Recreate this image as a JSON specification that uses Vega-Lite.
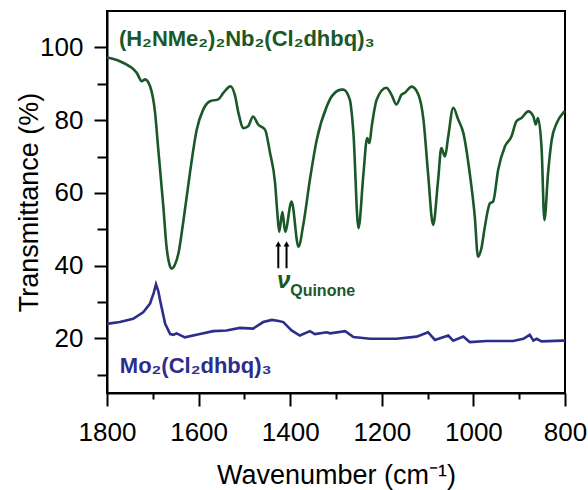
{
  "$schema": "https://vega.github.io/schema/vega-lite/v6.json",
  "width": 458,
  "height": 382,
  "autosize": {"type": "none"},
  "padding": {"left": 107, "top": 11, "right": 23, "bottom": 97},
  "background": "white",
  "config": {
    "view": {"stroke": "black", "strokeWidth": 2},
    "axis": {
      "grid": false,
      "domainColor": "black",
      "domainWidth": 2,
      "tickColor": "black",
      "tickWidth": 2,
      "labelFont": "Liberation Sans",
      "labelFontSize": 26,
      "labelColor": "black",
      "titleFont": "Liberation Sans",
      "titleFontSize": 27,
      "titleFontWeight": "normal",
      "titleColor": "black",
      "labelFlush": false,
      "labelOverlap": false
    }
  },
  "datasets": {
    "nb": [
      {"wn": 1800, "T": 97.2}, {"wn": 1786, "T": 96.8}, {"wn": 1772, "T": 96.2}, {"wn": 1758, "T": 95.3},
      {"wn": 1746, "T": 94.4}, {"wn": 1735, "T": 93.0}, {"wn": 1724, "T": 90.7}, {"wn": 1717, "T": 91.2},
      {"wn": 1706, "T": 89.3}, {"wn": 1695, "T": 82.0}, {"wn": 1688, "T": 71.9}, {"wn": 1677, "T": 56.2},
      {"wn": 1670, "T": 45.2}, {"wn": 1664, "T": 40.5}, {"wn": 1659, "T": 39.2}, {"wn": 1652, "T": 40.2},
      {"wn": 1644, "T": 43.4}, {"wn": 1633, "T": 52.5}, {"wn": 1619, "T": 65.4}, {"wn": 1604, "T": 77.4},
      {"wn": 1590, "T": 82.9}, {"wn": 1575, "T": 85.2}, {"wn": 1557, "T": 85.7}, {"wn": 1546, "T": 87.5},
      {"wn": 1535, "T": 89.0}, {"wn": 1531, "T": 89.3}, {"wn": 1521, "T": 87.0}, {"wn": 1513, "T": 82.0},
      {"wn": 1502, "T": 77.8}, {"wn": 1492, "T": 78.3}, {"wn": 1481, "T": 81.0}, {"wn": 1470, "T": 78.8},
      {"wn": 1455, "T": 77.4}, {"wn": 1444, "T": 71.0}, {"wn": 1433, "T": 62.7}, {"wn": 1428, "T": 54.4},
      {"wn": 1424, "T": 49.3}, {"wn": 1417, "T": 54.8}, {"wn": 1411, "T": 49.3}, {"wn": 1397, "T": 57.6},
      {"wn": 1382, "T": 45.2}, {"wn": 1371, "T": 51.6}, {"wn": 1357, "T": 63.6}, {"wn": 1342, "T": 74.6},
      {"wn": 1320, "T": 83.8}, {"wn": 1309, "T": 86.6}, {"wn": 1288, "T": 88.4}, {"wn": 1284, "T": 88.4},
      {"wn": 1270, "T": 85.7}, {"wn": 1262, "T": 76.5}, {"wn": 1251, "T": 50.3}, {"wn": 1240, "T": 65.4},
      {"wn": 1232, "T": 75.1}, {"wn": 1227, "T": 73.7}, {"wn": 1222, "T": 78.3}, {"wn": 1211, "T": 85.7},
      {"wn": 1190, "T": 88.9}, {"wn": 1179, "T": 87.0}, {"wn": 1168, "T": 84.3}, {"wn": 1157, "T": 87.0},
      {"wn": 1150, "T": 87.5}, {"wn": 1135, "T": 89.2}, {"wn": 1120, "T": 87.0}, {"wn": 1109, "T": 80.1},
      {"wn": 1099, "T": 65.4}, {"wn": 1088, "T": 51.2}, {"wn": 1077, "T": 63.6}, {"wn": 1070, "T": 72.3},
      {"wn": 1062, "T": 70.0}, {"wn": 1055, "T": 75.5}, {"wn": 1044, "T": 83.4}, {"wn": 1033, "T": 80.1},
      {"wn": 1022, "T": 76.5}, {"wn": 1008, "T": 65.4}, {"wn": 997, "T": 53.5}, {"wn": 990, "T": 42.5},
      {"wn": 983, "T": 44.5}, {"wn": 975, "T": 50.7}, {"wn": 964, "T": 57.1}, {"wn": 957, "T": 57.6},
      {"wn": 946, "T": 66.3}, {"wn": 931, "T": 72.8}, {"wn": 917, "T": 75.5}, {"wn": 906, "T": 79.7},
      {"wn": 895, "T": 80.6}, {"wn": 880, "T": 82.4}, {"wn": 869, "T": 81.0}, {"wn": 864, "T": 78.8},
      {"wn": 859, "T": 80.6}, {"wn": 851, "T": 71.9}, {"wn": 845, "T": 52.5}, {"wn": 837, "T": 65.4},
      {"wn": 829, "T": 74.6}, {"wn": 818, "T": 79.2}, {"wn": 804, "T": 82.0}, {"wn": 800, "T": 82.5}
    ],
    "mo": [
      {"wn": 1800, "T": 24.0}, {"wn": 1772, "T": 24.5}, {"wn": 1743, "T": 25.4}, {"wn": 1721, "T": 27.2},
      {"wn": 1706, "T": 29.6}, {"wn": 1698, "T": 32.5}, {"wn": 1693, "T": 34.9}, {"wn": 1688, "T": 33.0},
      {"wn": 1684, "T": 30.4}, {"wn": 1673, "T": 24.0}, {"wn": 1662, "T": 21.2}, {"wn": 1655, "T": 21.0},
      {"wn": 1648, "T": 21.4}, {"wn": 1630, "T": 20.3}, {"wn": 1597, "T": 21.2}, {"wn": 1568, "T": 22.0},
      {"wn": 1539, "T": 22.2}, {"wn": 1510, "T": 22.9}, {"wn": 1481, "T": 22.7}, {"wn": 1459, "T": 24.5},
      {"wn": 1440, "T": 25.1}, {"wn": 1425, "T": 24.8}, {"wn": 1415, "T": 24.5}, {"wn": 1397, "T": 22.2},
      {"wn": 1379, "T": 20.8}, {"wn": 1357, "T": 22.0}, {"wn": 1346, "T": 21.2}, {"wn": 1320, "T": 21.7},
      {"wn": 1313, "T": 21.4}, {"wn": 1280, "T": 22.0}, {"wn": 1262, "T": 20.4}, {"wn": 1226, "T": 19.9},
      {"wn": 1168, "T": 19.9}, {"wn": 1124, "T": 20.5}, {"wn": 1099, "T": 21.7}, {"wn": 1084, "T": 19.6},
      {"wn": 1055, "T": 20.8}, {"wn": 1044, "T": 19.4}, {"wn": 1022, "T": 20.5}, {"wn": 1008, "T": 19.0},
      {"wn": 971, "T": 19.3}, {"wn": 913, "T": 19.3}, {"wn": 891, "T": 19.9}, {"wn": 877, "T": 21.0},
      {"wn": 869, "T": 19.4}, {"wn": 862, "T": 19.9}, {"wn": 851, "T": 19.2}, {"wn": 807, "T": 19.4},
      {"wn": 800, "T": 19.4}
    ]
  },
  "layer": [
    {
      "data": {"name": "nb"},
      "mark": {"type": "line", "color": "#1b5828", "strokeWidth": 2.6, "interpolate": "monotone"},
      "encoding": {
        "x": {
          "field": "wn", "type": "quantitative",
          "scale": {"domain": [800, 1800], "reverse": true, "nice": false},
          "axis": {
            "title": "Wavenumber (cm⁻¹)",
            "values": [800, 900, 1000, 1100, 1200, 1300, 1400, 1500, 1600, 1700, 1800],
            "labelExpr": "datum.value % 200 == 0 ? datum.label : ''",
            "format": "d",
            "tickSize": {"condition": {"test": "datum.value % 200 == 0", "value": 13}, "value": 6},
            "labelPadding": 13,
            "titlePadding": 17
          }
        },
        "y": {
          "field": "T", "type": "quantitative",
          "scale": {"domain": [5, 110], "nice": false, "zero": false},
          "axis": {
            "title": "Transmittance (%)",
            "values": [10, 20, 30, 40, 50, 60, 70, 80, 90, 100],
            "labelExpr": "datum.value % 20 == 0 ? datum.label : ''",
            "tickSize": {"condition": {"test": "datum.value % 20 == 0", "value": 13}, "value": 10},
            "labelPadding": 11,
            "titlePadding": -4
          }
        }
      }
    },
    {
      "data": {"name": "mo"},
      "mark": {"type": "line", "color": "#2d2d8c", "strokeWidth": 2.6},
      "encoding": {
        "x": {"field": "wn", "type": "quantitative"},
        "y": {"field": "T", "type": "quantitative"}
      }
    },
    {
      "data": {"values": [{"wn": 1774, "T": 100.3, "label": "(H₂NMe₂)₂Nb₂(Cl₂dhbq)₃"}]},
      "mark": {"type": "text", "align": "left", "baseline": "alphabetic", "font": "Liberation Sans", "fontSize": 22, "fontWeight": "bold", "color": "#1b5828"},
      "encoding": {
        "x": {"field": "wn", "type": "quantitative"},
        "y": {"field": "T", "type": "quantitative"},
        "text": {"field": "label"}
      }
    },
    {
      "data": {"values": [{"wn": 1772, "T": 10.6, "label": "Mo₂(Cl₂dhbq)₃"}]},
      "mark": {"type": "text", "align": "left", "baseline": "alphabetic", "font": "Liberation Sans", "fontSize": 22, "fontWeight": "bold", "color": "#2d2d8c"},
      "encoding": {
        "x": {"field": "wn", "type": "quantitative"},
        "y": {"field": "T", "type": "quantitative"},
        "text": {"field": "label"}
      }
    },
    {
      "data": {"values": [{"wn": 1429, "T": 33.8, "label": "ν"}]},
      "mark": {"type": "text", "align": "left", "baseline": "alphabetic", "font": "Liberation Sans", "fontSize": 24, "fontWeight": "bold", "fontStyle": "italic", "color": "#1b5828"},
      "encoding": {
        "x": {"field": "wn", "type": "quantitative"},
        "y": {"field": "T", "type": "quantitative"},
        "text": {"field": "label"}
      }
    },
    {
      "data": {"values": [{"wn": 1400, "T": 31.6, "label": "Quinone"}]},
      "mark": {"type": "text", "align": "left", "baseline": "alphabetic", "font": "Liberation Sans", "fontSize": 16, "fontWeight": "bold", "color": "#1b5828"},
      "encoding": {
        "x": {"field": "wn", "type": "quantitative"},
        "y": {"field": "T", "type": "quantitative"},
        "text": {"field": "label"}
      }
    },
    {
      "data": {"values": [{"wn": 1426, "lo": 39.3, "hi": 45.5}, {"wn": 1408, "lo": 39.3, "hi": 45.5}]},
      "mark": {"type": "rule", "color": "black", "strokeWidth": 2},
      "encoding": {
        "x": {"field": "wn", "type": "quantitative"},
        "y": {"field": "lo", "type": "quantitative"},
        "y2": {"field": "hi"}
      }
    },
    {
      "data": {"values": [{"wn": 1426, "tip": 46.0}, {"wn": 1408, "tip": 46.0}]},
      "mark": {"type": "point", "shape": "triangle-up", "filled": true, "color": "black", "size": 35, "opacity": 1},
      "encoding": {
        "x": {"field": "wn", "type": "quantitative"},
        "y": {"field": "tip", "type": "quantitative"}
      }
    }
  ]
}
